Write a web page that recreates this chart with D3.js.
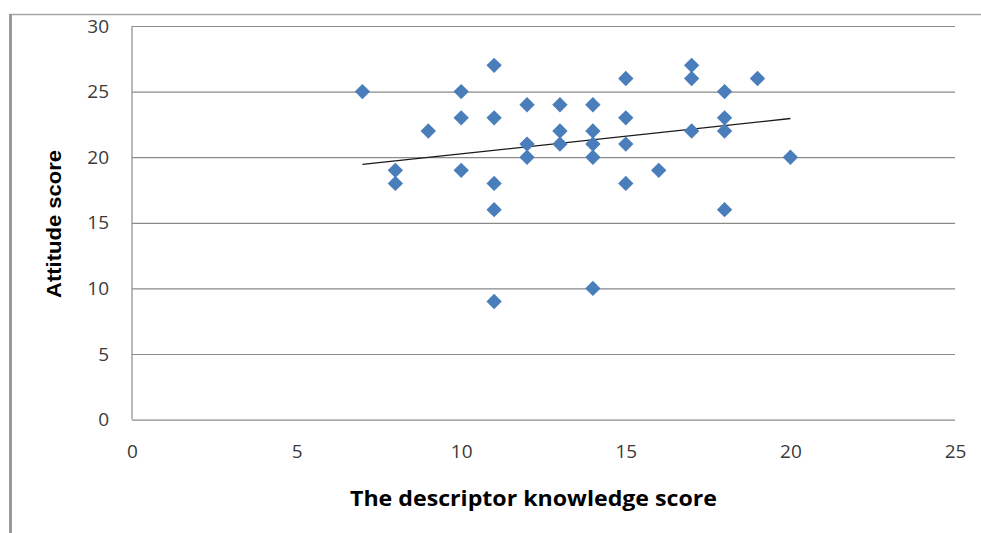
<!DOCTYPE html>
<html>
<head>
<meta charset="utf-8">
<script src="https://cdn.jsdelivr.net/npm/d3@7/dist/d3.min.js"></script>
<style>
  html, body { margin: 0; padding: 0; background: #fff; }
  svg { display: block; }
</style>
</head>
<body>
<div id="chart"></div>
<script>
// ---- Data ----
const knowledgeScores = [7, 8, 8, 9, 10, 10, 10, 11, 11, 11, 11, 11, 12, 12, 12, 13, 13, 13,
  14, 14, 14, 14, 14, 15, 15, 15, 15, 16, 17, 17, 17, 18, 18, 18, 18, 19, 20];
const attitudeScores = [25, 19, 18, 22, 25, 23, 19, 27, 23, 18, 16, 9, 24, 21, 20, 24, 22, 21,
  24, 22, 21, 20, 10, 26, 23, 21, 18, 19, 27, 26, 22, 25, 23, 22, 16, 26, 20];
const trendX = [7, 20];
const trendY = [19.45, 22.95];
const xTicks = [0, 5, 10, 15, 20, 25];
const yTicks = [0, 5, 10, 15, 20, 25, 30];
const xTitle = "The descriptor knowledge score";
const yTitle = "Attitude score";

// ---- Layout ----
const W = 981, H = 533;
const plot = { left: 132, right: 955, top: 26, bottom: 419.6 };

const svg = d3.select("#chart").append("svg")
  .attr("width", W).attr("height", H);

// outer frame (partial, as in reference)
svg.append("line").attr("x1", 9).attr("x2", 981).attr("y1", 14.5).attr("y2", 14.5)
  .attr("stroke", "#a6a6a6").attr("stroke-width", 1.5);
svg.append("line").attr("x1", 10.5).attr("x2", 10.5).attr("y1", 14).attr("y2", H)
  .attr("stroke", "#9a9a9a").attr("stroke-width", 3);

const x = d3.scaleLinear().domain([0, 25]).range([plot.left, plot.right]);
const y = d3.scaleLinear().domain([0, 30]).range([plot.bottom, plot.top]);

// gridlines via axis
const gridG = svg.append("g").attr("transform", `translate(${plot.left},0)`)
  .call(d3.axisRight(y).tickValues(yTicks).tickSize(plot.right - plot.left).tickFormat(""));
gridG.select(".domain").remove();
gridG.selectAll(".tick line").attr("stroke", "#8a8a8a").attr("stroke-width", 1.2);

// left axis line
svg.append("line").attr("x1", plot.left).attr("x2", plot.left)
  .attr("y1", plot.top).attr("y2", plot.bottom)
  .attr("stroke", "#8a8a8a").attr("stroke-width", 1.2);

// y tick labels
const yAxisG = svg.append("g").attr("transform", `translate(${plot.left},0)`)
  .call(d3.axisLeft(y).tickValues(yTicks).tickSize(0).tickPadding(23).tickFormat(d3.format("d")));
yAxisG.select(".domain").remove();
yAxisG.selectAll("text")
  .attr("font-family", "'Open Sans', sans-serif").attr("font-size", 19)
  .attr("fill", "#3a3a3a");

// x tick labels
const xAxisG = svg.append("g").attr("transform", `translate(0,${plot.bottom})`)
  .call(d3.axisBottom(x).tickValues(xTicks).tickSize(0).tickPadding(25).tickFormat(d3.format("d")));
xAxisG.select(".domain").remove();
xAxisG.selectAll("text")
  .attr("font-family", "'Open Sans', sans-serif").attr("font-size", 19)
  .attr("fill", "#3a3a3a");

// trend line
svg.append("path")
  .datum(trendX.map((v, i) => [v, trendY[i]]))
  .attr("d", d3.line().x(d => x(d[0])).y(d => y(d[1])))
  .attr("stroke", "#1a1a1a").attr("stroke-width", 1.3).attr("fill", "none");

// points (diamonds)
const pts = knowledgeScores.map((v, i) => ({ x: v, y: attitudeScores[i] }));
svg.append("g").selectAll("path").data(pts).join("path")
  .attr("d", d3.symbol(d3.symbolSquare, 118)())
  .attr("transform", d => `translate(${x(d.x)},${y(d.y)}) rotate(45)`)
  .attr("fill", "#4a7ebb");

// axis titles
svg.append("text")
  .attr("x", 533.5).attr("y", 506)
  .attr("text-anchor", "middle")
  .attr("font-family", "'Open Sans', sans-serif").attr("font-weight", "bold")
  .attr("font-size", 21.5)
  .attr("textLength", 367).attr("lengthAdjust", "spacingAndGlyphs")
  .attr("fill", "#000").text(xTitle);

svg.append("text")
  .attr("transform", "translate(61,224) rotate(-90)")
  .attr("text-anchor", "middle")
  .attr("font-family", "'Liberation Sans', Arial, sans-serif").attr("font-weight", "bold")
  .attr("font-size", 20.5)
  .attr("textLength", 148).attr("lengthAdjust", "spacingAndGlyphs")
  .attr("fill", "#000").text(yTitle);
</script>
</body>
</html>
